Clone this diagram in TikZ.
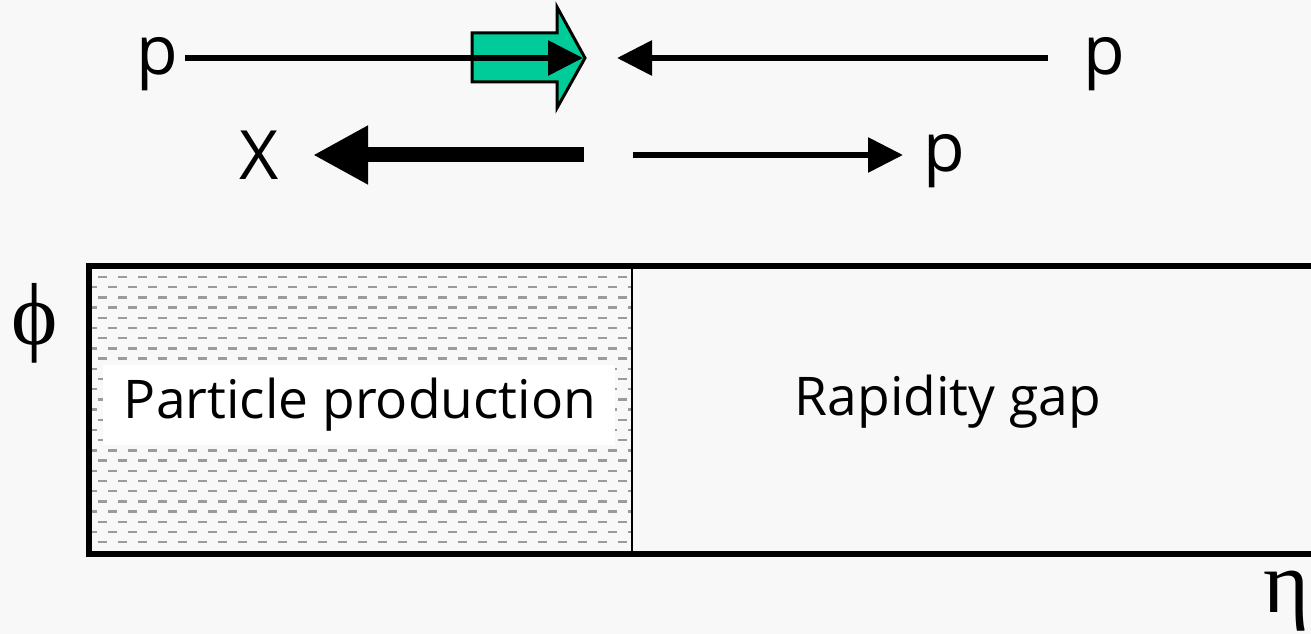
\documentclass[tikz,border=0pt]{standalone}
\usepackage{fontspec}
\setmainfont{Open Sans}
\newfontfamily\greekfont{Liberation Serif}
\usetikzlibrary{arrows.meta}
\definecolor{bgc}{RGB}{248,248,248}
\definecolor{arrgreen}{RGB}{0,204,153}
\definecolor{dashgray}{RGB}{155,155,155}
\begin{document}
\begin{tikzpicture}[x=0.75pt,y=-0.75pt,
  toplbl/.style={inner sep=0pt, font=\fontsize{51}{60}\selectfont},
  boxlbl/.style={inner sep=0pt, font=\fontsize{40}{46}\selectfont},
  greek/.style={inner sep=0pt, font=\greekfont\fontsize{66}{72}\selectfont},
  thinarr/.style={line width=4.5pt, -{Triangle[length=26.25pt,width=25.5pt]}},
  thickarr/.style={line width=11.25pt, -{Triangle[length=41.25pt,width=41.25pt]}},
  dashrow/.style={dashgray, line width=1.7pt, dash pattern=on 7pt off 8pt}]
\useasboundingbox (0,0) rectangle (1311,634);
\fill[bgc] (0,0) rectangle (1311,634);
\clip (0,0) rectangle (1311,634);
% shaded production region
\begin{scope}
  \clip (91,269) rectangle (631,551);
  \foreach \r in {0,...,26}{
    \pgfmathsetmacro\yy{277+10.2*\r}
    \pgfmathsetmacro\xo{isodd(\r) ? 88 : 98}
    \draw[dashrow] (\xo,\yy) -- (640,\yy);
  }
\end{scope}
\fill[white] (103,365) rectangle (615,445);
% frame
\draw[line width=4.5pt] (88.5,266) rectangle (1340,554);
\draw[line width=1.5pt] (632,266) -- (632,554);
% labels
\node[boxlbl] (prod) at (360,405) {Particle production};
\node[boxlbl] (gap) at (948,402) {Rapidity gap};
\node[greek] (phi) at (35,323) {ϕ};
\node[greek, anchor=base] (eta) at (1286,612) {η};
\node[toplbl, anchor=base] (pL) at (157,75) {p};
\node[toplbl, anchor=base] (pR) at (1104,75) {p};
\node[toplbl, anchor=base] (X) at (259,180) {X};
\node[toplbl, anchor=base] (p2) at (944,172) {p};
% coordinates
\coordinate (a1s) at (185,58);
\coordinate (a1t) at (583,58);
\coordinate (a2s) at (1048,58);
\coordinate (a2t) at (617,58);
\coordinate (a3s) at (584,155);
\coordinate (a3t) at (313,155);
\coordinate (a4s) at (633,155);
\coordinate (a4t) at (903,155);
% green block arrow
\draw[fill=arrgreen, line width=2.25pt, line join=miter] (472,33) -- (557,33) -- (557,7) -- (585,58) -- (557,108) -- (557,82) -- (472,82) -- cycle;
% arrows
\draw[thinarr] (a1s) -- (a1t);
\draw[thinarr] (a2s) -- (a2t);
\draw[thickarr] (a3s) -- (a3t);
\draw[thinarr] (a4s) -- (a4t);
\end{tikzpicture}
\end{document}
